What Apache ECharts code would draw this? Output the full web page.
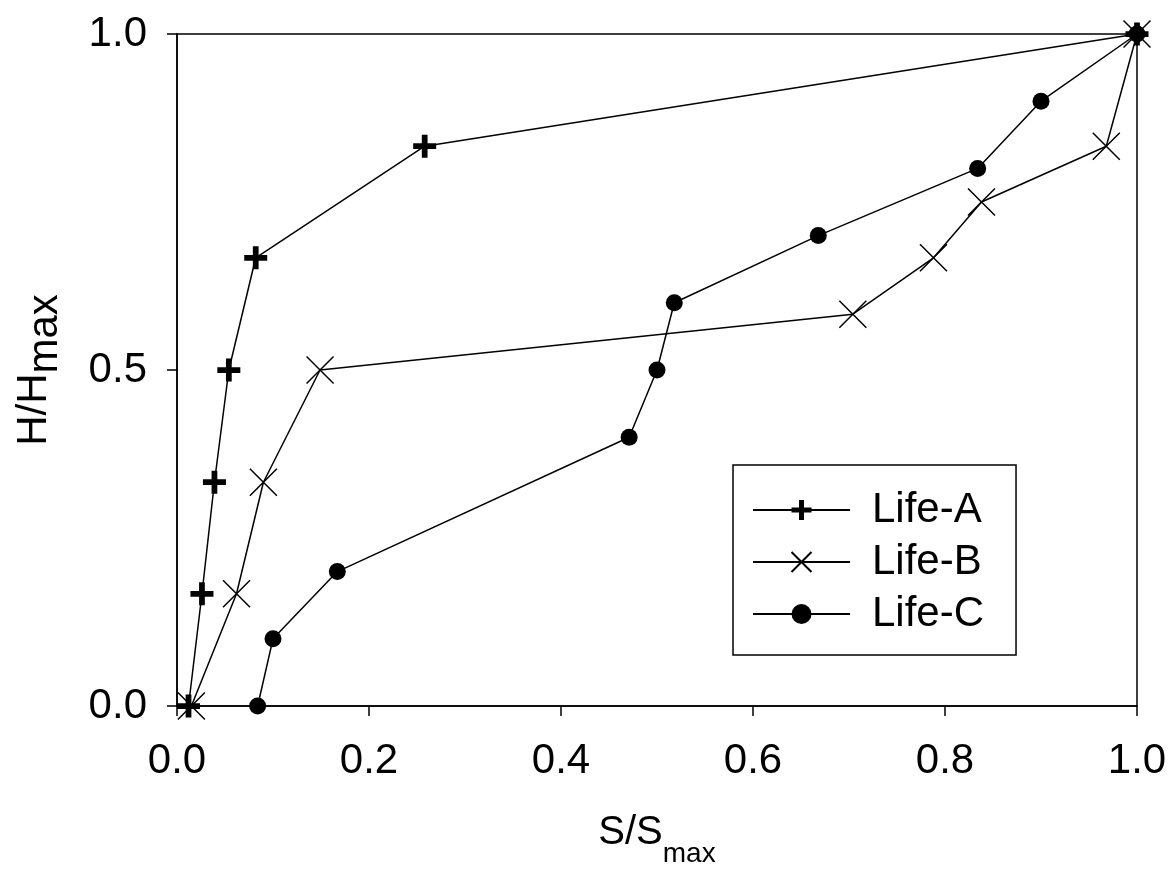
<!DOCTYPE html>
<html>
<head>
<meta charset="utf-8">
<script src="https://cdn.jsdelivr.net/npm/echarts@6/dist/echarts.min.js"></script>
<style>
html,body{margin:0;padding:0;background:#fff;}
#chart{width:1173px;height:869px;}
</style>
</head>
<body>
<div id="chart"></div>
<script>
// Data: [S/Smax, H/Hmax]
const lifeA = [[0.012,0],[0.026,0.167],[0.039,0.333],[0.054,0.5],[0.082,0.667],[0.258,0.833],[1,1]];
const lifeB = [[0.015,0],[0.062,0.167],[0.090,0.333],[0.149,0.5],[0.704,0.583],[0.788,0.667],[0.838,0.75],[0.968,0.833],[1,1]];
const lifeC = [[0.084,0],[0.100,0.1],[0.167,0.2],[0.471,0.4],[0.500,0.5],[0.518,0.6],[0.668,0.7],[0.834,0.8],[0.900,0.9],[1,1]];
const seriesNames = ['Life-A','Life-B','Life-C'];
const xTicks = [0, 0.2, 0.4, 0.6, 0.8, 1.0];
const yTicks = [0, 0.5, 1.0];

const FONT = '"Liberation Sans", Arial, sans-serif';
const chart = echarts.init(document.getElementById('chart'), null, {renderer:'canvas'});

const plusPath = 'path://M9,0H15V9H24V15H15V24H9V15H0V9H9Z';
const crossPath = 'path://M0,0L24,24M24,0L0,24';

const lineStyle = {color:'#000', width:1.5};

const option = {
  backgroundColor:'#fff',
  animation:false,
  grid:{left:177, right:36, top:34, bottom:163, outerBoundsMode:'none', containLabel:false,
        show:true, borderColor:'#000', borderWidth:1.5, backgroundColor:'transparent'},
  xAxis:{
    type:'value', min:xTicks[0], max:xTicks[xTicks.length-1], interval:0.2,
    name:'{a|S/S}{b|max}', nameLocation:'middle', nameGap:107,
    nameTextStyle:{
      rich:{
        a:{fontFamily:FONT, fontSize:40, color:'#000', lineHeight:40, verticalAlign:'top'},
        b:{fontFamily:FONT, fontSize:28, color:'#000', lineHeight:28, padding:[27,0,0,0], verticalAlign:'top'}
      }
    },
    axisLine:{show:true, lineStyle:{color:'#000', width:1.5}},
    axisTick:{show:true, inside:false, length:10, lineStyle:{color:'#000', width:1.5}},
    axisLabel:{fontFamily:FONT, fontSize:42, color:'#000', margin:34, formatter:v=>v.toFixed(1)},
    splitLine:{show:false}
  },
  yAxis:{
    type:'value', min:yTicks[0], max:yTicks[yTicks.length-1], interval:0.5,
    name:'{a|H/H}{b|max}', nameLocation:'middle', nameRotate:90, nameGap:122,
    nameTextStyle:{
      rich:{
        a:{fontFamily:FONT, fontSize:42, color:'#000', lineHeight:42, verticalAlign:'top'},
        b:{fontFamily:FONT, fontSize:42, color:'#000', lineHeight:42, padding:[11,0,0,0], verticalAlign:'top'}
      }
    },
    axisLine:{show:true, lineStyle:{color:'#000', width:1.5}},
    axisTick:{show:true, inside:false, length:10, lineStyle:{color:'#000', width:1.5}},
    axisLabel:{fontFamily:FONT, fontSize:42, color:'#000', margin:30, formatter:v=>v.toFixed(1)},
    splitLine:{show:false}
  },
  legend:{
    data:seriesNames,
    orient:'vertical',
    left:733, top:465,
    padding:[24,32,20,19],
    itemWidth:97, itemHeight:25, itemGap:10,
    borderColor:'#000', borderWidth:1.5,
    backgroundColor:'#fff',
    textStyle:{fontFamily:FONT, fontSize:42, color:'#000', padding:[0,0,0,17]},
    selectedMode:false
  },
  series:[
    {name:seriesNames[0], type:'line', data:lifeA, clip:false,
     symbol:plusPath, symbolSize:23, symbolKeepAspect:true,
     itemStyle:{color:'#000', borderColor:'#000', borderWidth:0},
     lineStyle:lineStyle, z:2},
    {name:seriesNames[2], type:'line', data:lifeC, clip:false,
     symbol:'circle', symbolSize:17,
     itemStyle:{color:'#000', borderColor:'#000', borderWidth:0},
     lineStyle:lineStyle, z:3},
    {name:seriesNames[1], type:'line', data:lifeB, clip:false,
     symbol:crossPath, symbolSize:27,
     itemStyle:{color:'none', borderColor:'#000', borderWidth:1.5},
     lineStyle:lineStyle, z:4}
  ]
};
chart.setOption(option);
</script>
</body>
</html>
